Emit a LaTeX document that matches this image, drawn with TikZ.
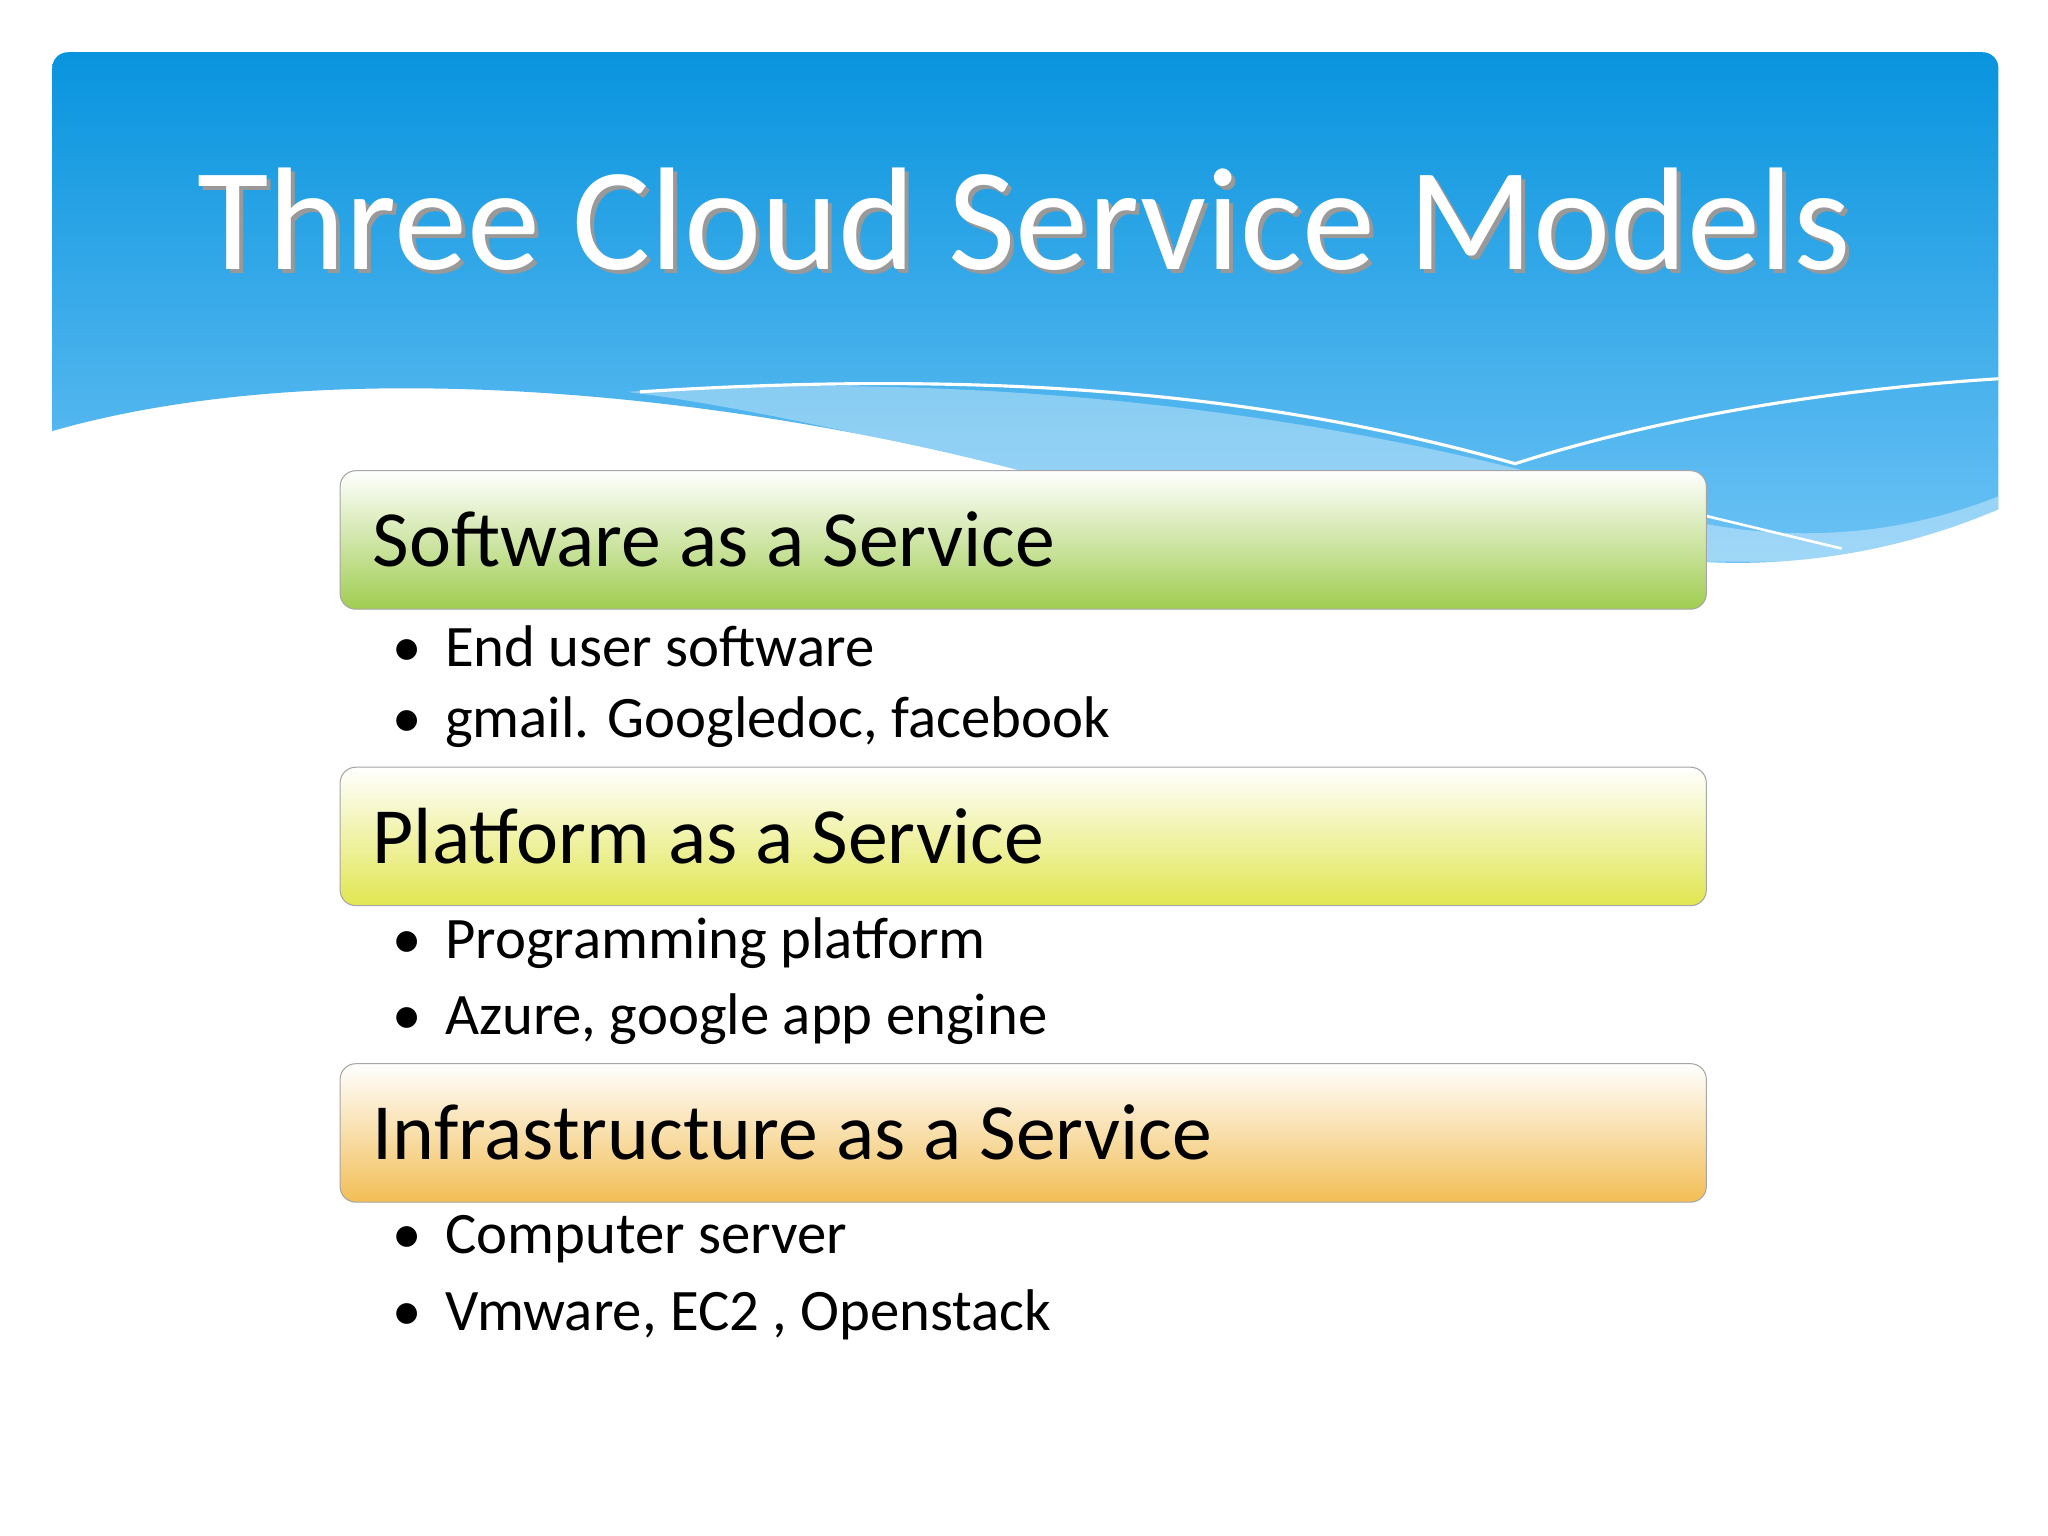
\documentclass[tikz,border=0pt]{standalone}
\usepackage{fontspec}
\setmainfont{Carlito}
\begin{document}
\begin{tikzpicture}[x=0.5pt,y=-0.5pt,
  hdr/.style={draw=black!35,rounded corners=6pt,minimum width=523pt,minimum height=53pt,anchor=north west,inner sep=0pt},
  htxt/.style={anchor=west,inner sep=0pt,font=\fontsize{30.5}{33}\selectfont},
  btxt/.style={anchor=west,inner sep=0pt,font=\fontsize{22.5}{26}\selectfont}]
\useasboundingbox (0,0) rectangle (1568,1176);
\fill[white] (0,0) rectangle (1568,1176);
% header
\shade[top color={rgb,255:red,8;green,148;blue,222}, bottom color={rgb,255:red,110;green,195;blue,245}]
 (40,330) [rounded corners=6pt] -- (40,40) -- (1530,40) [sharp corners] -- (1530,390)
 .. controls (1460,420) and (1380,435) .. (1300,430)
 .. controls (1100,420) and (950,380) .. (780,360)
 .. controls (550,300) and (250,270) .. (40,330) -- cycle;
\fill[white,opacity=0.35] (480,300) .. controls (800,280) and (1100,330) .. (1300,400)
 .. controls (1400,420) and (1480,400) .. (1530,380) -- (1530,430) -- (1300,430) .. controls (1100,420) and (950,380) .. (780,360) .. controls (650,330) and (560,310) .. (480,300) -- cycle;
\draw[white,line width=1.2pt] (490,300) .. controls (800,280) and (1000,310) .. (1160,355) .. controls (1300,310) and (1450,295) .. (1530,290);
\draw[white,line width=1pt] (1306,395) -- (1410,420);
% boxes
\node[hdr, top color=white, bottom color={rgb,255:red,160;green,205;blue,80}] (b1) at (260,360) {};
\node[htxt] (t1) at (285,413) {Software as a Service};
\node[btxt] (l1) at (300,495) {•\hspace{9pt}End user software};
\node[btxt] (l2) at (300,553) {•\hspace{9pt}gmail. Googledoc, facebook};
\node[hdr, top color=white, bottom color={rgb,255:red,225;green,230;blue,80}] (b2) at (260,587) {};
\node[htxt] (t2) at (285,640) {Platform as a Service};
\node[btxt] (l3) at (300,722) {•\hspace{9pt}Programming platform};
\node[btxt] (l4) at (300,780) {•\hspace{9pt}Azure, google app engine};
\node[hdr, top color=white, bottom color={rgb,255:red,242;green,190;blue,85}] (b3) at (260,814) {};
\node[htxt] (t3) at (285,867) {Infrastructure as a Service};
\node[btxt] (l5) at (300,949) {•\hspace{9pt}Computer server};
\node[btxt] (l6) at (300,1007) {•\hspace{9pt}Vmware, EC2 , Openstack};
% title
\node[text=black!40,font=\fontsize{56}{62}\selectfont] at (787,171) {Three Cloud Service Models};
\node[text=white,font=\fontsize{56}{62}\selectfont] (title) at (784,168) {Three Cloud Service Models};
\end{tikzpicture}
\end{document}
